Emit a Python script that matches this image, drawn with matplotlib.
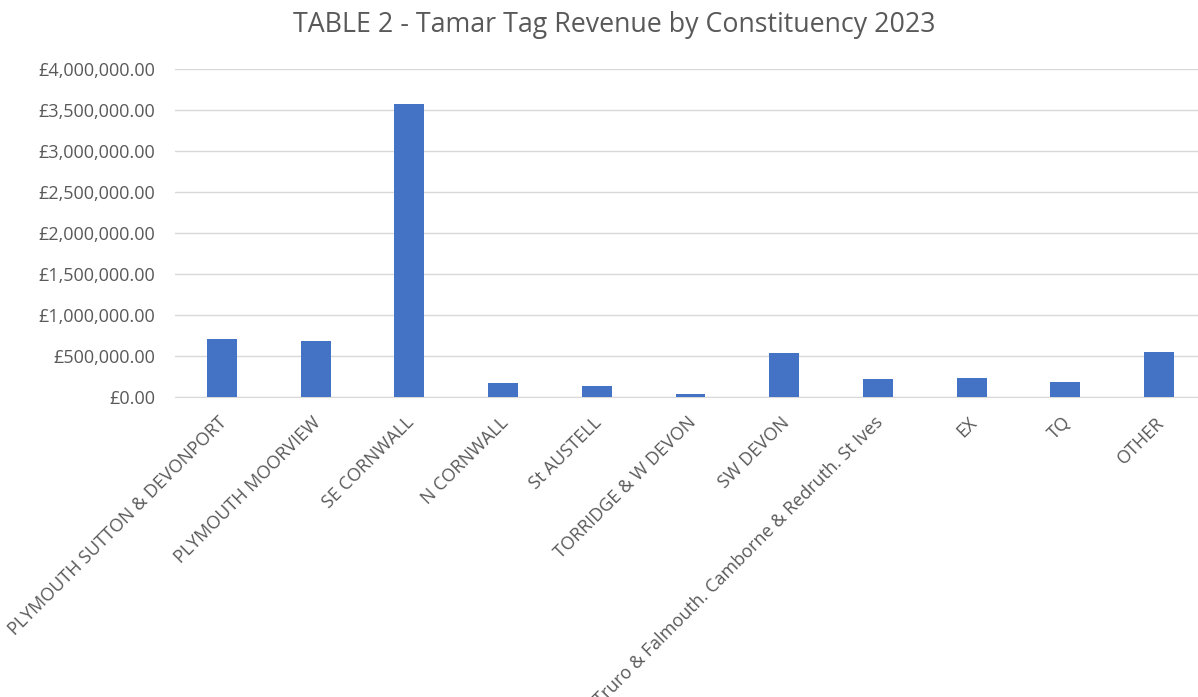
import matplotlib
matplotlib.use("Agg")
import matplotlib.pyplot as plt
from matplotlib.ticker import FuncFormatter, MultipleLocator
from matplotlib.transforms import ScaledTranslation

plt.rcParams['font.family'] = ['Open Sans', 'DejaVu Sans']

constituencies = [
    "PLYMOUTH SUTTON & DEVONPORT",
    "PLYMOUTH MOORVIEW",
    "SE CORNWALL",
    "N CORNWALL",
    "St AUSTELL",
    "TORRIDGE & W DEVON",
    "SW DEVON",
    "Truro & Falmouth. Camborne & Redruth. St Ives",
    "EX",
    "TQ",
    "OTHER",
]
revenue = [702000, 685000, 3570000, 167000, 131000, 33000,
           538000, 220000, 225000, 183000, 550000]

TEXT_GREY = "#595959"
BAR_BLUE = "#4472C4"

fig = plt.figure(figsize=(11.98, 6.97), dpi=100)
ax = fig.add_axes([175 / 1198, 1 - 396.7 / 697, 1031 / 1198, (396.7 - 69.3) / 697])

x = range(len(constituencies))
ax.bar(x, revenue, width=0.32, color=BAR_BLUE, zorder=3)

ax.set_xlim(-0.5, len(constituencies) - 0.5)
ax.set_ylim(0, 4000000)
ax.yaxis.set_major_locator(MultipleLocator(500000))
ax.yaxis.set_major_formatter(FuncFormatter(lambda v, _: f"£{v:,.2f}"))
ax.grid(axis='y', color="#d9d9d9", linewidth=1, zorder=0)

for side in ['top', 'right', 'left']:
    ax.spines[side].set_visible(False)
ax.spines['bottom'].set_color("#d9d9d9")
ax.tick_params(axis='both', length=0, colors=TEXT_GREY, labelsize=13)
ax.tick_params(axis='y', pad=14)

ax.set_xticks(list(x))
ax.set_xticklabels(constituencies, rotation=45, ha='right', va='top',
                   rotation_mode='anchor')
# nudge the rotated labels so their ends sit just right of each tick, a bit lower
shift = ScaledTranslation(-4 / 100, -12 / 100, fig.dpi_scale_trans)
for lbl in ax.get_xticklabels():
    lbl.set_color(TEXT_GREY)
    lbl.set_transform(lbl.get_transform() + shift)

fig.text(614 / 1198, 1 - 25 / 697, "TABLE 2 - Tamar Tag Revenue by Constituency 2023",
         ha='center', va='center', fontsize=19.3, color=TEXT_GREY)

fig.savefig("out.png", dpi=100)
